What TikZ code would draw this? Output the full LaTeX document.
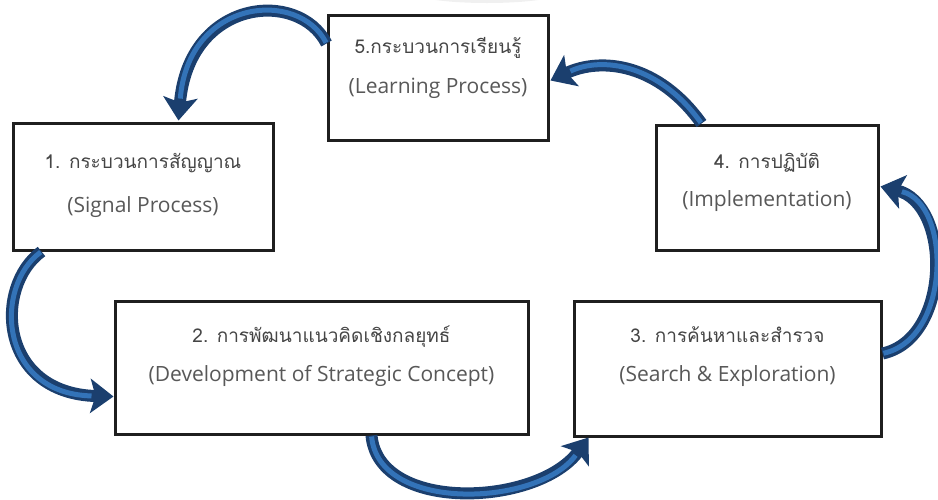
\documentclass[tikz,border=0pt]{standalone}
\usepackage{fontspec}
\newfontfamily\thaifont[Script=Thai]{Loma}
\newfontfamily\latinfont{Open Sans}
\usetikzlibrary{arrows.meta,calc}
\definecolor{arrdark}{HTML}{1B3F6E}
\definecolor{arrlight}{HTML}{3373B8}
\definecolor{txtgray}{HTML}{454545}
\begin{document}
\begin{tikzpicture}[x=1pt,y=-1pt,
  procbox/.style={draw=black!88, line width=3pt, fill=white, inner sep=0pt},
  thaitxt/.style={font=\thaifont\fontsize{19}{22}\selectfont, text=txtgray, anchor=base, inner sep=0pt},
  engtxt/.style={font=\latinfont\fontsize{21}{25}\selectfont, text=txtgray!90, anchor=base, inner sep=0pt},
  bigarrow/.style={draw=arrdark, line width=12pt,
    -{Stealth[width=34pt,length=23pt,inset=5pt]}},
  arrowshine/.style={draw=arrlight, line width=5pt, shorten >=22pt, shorten <=1pt}]
\useasboundingbox (0,0) rectangle (938,499);
\begin{scope}
  \clip (0,0) rectangle (938,499);
  \fill[gray!12] (487,-8) ellipse [x radius=75pt, y radius=11pt];
\end{scope}
% boxes
\node[procbox, minimum width=260pt, minimum height=127pt] (b1) at (143,186.5) {};
\node[procbox, minimum width=220pt, minimum height=125pt] (b5) at (438,77.5) {};
\node[procbox, minimum width=222pt, minimum height=125pt] (b4) at (767,187.5) {};
\node[procbox, minimum width=413pt, minimum height=133pt] (b2) at (321.5,367.5) {};
\node[procbox, minimum width=307pt, minimum height=135pt] (b3) at (727.5,368.5) {};
% texts
\node[thaitxt] (t1a) at ([yshift=-47pt]b1.north) {1. กระบวนการสัญญาณ};
\node[engtxt] (t1b) at ([yshift=-91pt]b1.north) {(Signal Process)};
\node[thaitxt] (t5a) at ([yshift=-40pt]b5.north) {5.กระบวนการเรียนรู้};
\node[engtxt] (t5b) at ([yshift=-80pt]b5.north) {(Learning Process)};
\node[thaitxt] (t4a) at ([yshift=-45pt]b4.north) {4. การปฏิบัติ};
\node[engtxt] (t4b) at ([yshift=-83pt]b4.north) {(Implementation)};
\node[thaitxt] (t2a) at ([yshift=-43pt]b2.north) {2. การพัฒนาแนวคิดเชิงกลยุทธ์};
\node[engtxt] (t2b) at ([yshift=-82pt]b2.north) {(Development of Strategic Concept)};
\node[thaitxt] (t3a) at ([yshift=-43pt]b3.north) {3. การค้นหาและสำรวจ};
\node[engtxt] (t3b) at ([yshift=-82pt]b3.north) {(Search \& Exploration)};
% connector end points
\coordinate (a51s) at ($(b5.north west)+(0,30)$);
\coordinate (a51e) at ($(b1.north west)+(167,-1)$);
\coordinate (a45s) at ($(b4.north west)+(47,0)$);
\coordinate (a45e) at ($(b5.north east)+(1,67)$);
\coordinate (a34s) at ($(b3.north east)+(0,54)$);
\coordinate (a34e) at ($(b4.north east)+(1,63)$);
\coordinate (a12s) at ($(b1.south west)+(30,0)$);
\coordinate (a12e) at ($(b2.north west)+(0,97)$);
\coordinate (a23s) at ($(b2.south west)+(258,0)$);
\coordinate (a23e) at ($(b3.south west)+(16,0)$);
% arrows
\foreach \s/\ca/\cb/\e in {a51s/{-28,-55}/{10,-122}/a51e, a45s/{-43,-60}/{51,-24}/a45e,
  a34s/{69,-15}/{71,17}/a34e, a12s/{-48,35}/{-115,-3}/a12e, a23s/{7,78}/{-50,69}/a23e}{
  \draw[bigarrow] (\s) .. controls +(\ca) and +(\cb) .. (\e);
  \draw[arrowshine] (\s) .. controls +(\ca) and +(\cb) .. (\e);
}
\end{tikzpicture}
\end{document}
